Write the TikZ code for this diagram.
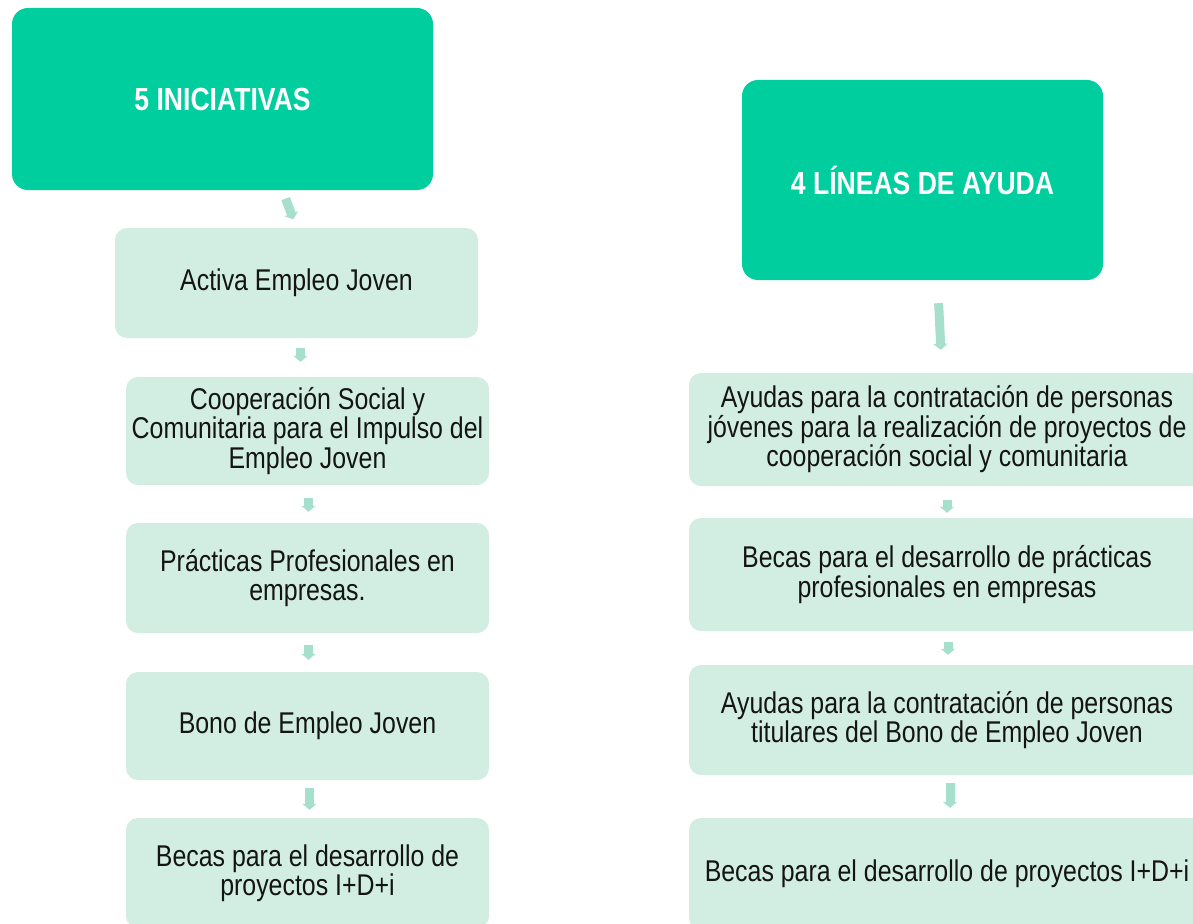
\documentclass[tikz,border=0pt]{standalone}
\usepackage{fontspec}
\setmainfont{Liberation Sans}[FakeStretch=0.83]
\usetikzlibrary{arrows.meta}
\definecolor{hdr}{RGB}{0,206,158}
\definecolor{lbox}{RGB}{210,238,226}
\definecolor{arrc}{RGB}{166,224,204}
\definecolor{txt}{RGB}{20,20,20}
\tikzset{
  hdrbox/.style={fill=hdr, rounded corners=16pt, inner sep=0pt, text=white,
    font=\fontsize{32}{32}\selectfont\bfseries, align=center},
  itembox/.style={fill=lbox, rounded corners=12pt, inner sep=0pt, text=txt,
    font=\fontsize{30}{29.5}\selectfont, align=center},
  arr/.style={draw=arrc, line width=9pt, -{Triangle[width=14pt,length=6pt]}}
}
\begin{document}
\begin{tikzpicture}[x=1pt,y=-1pt]
\path[use as bounding box, clip] (0,0) rectangle (1193,923);
\fill[white] (0,0) rectangle (1193,923);
% left column
\node[hdrbox, minimum width=421pt, minimum height=182pt] (h1) at (222.5,99) {5 INICIATIVAS};
\node[itembox, minimum width=363pt, minimum height=110pt] (b1) at (296.5,283) {Activa Empleo Joven};
\node[itembox, minimum width=363pt, minimum height=108pt] (b2) at (307.5,431) {Cooperación Social y\\Comunitaria para el Impulso del\\Empleo Joven};
\node[itembox, minimum width=363pt, minimum height=110pt] (b3) at (307.5,578) {Prácticas Profesionales en\\empresas.};
\node[itembox, minimum width=363pt, minimum height=108pt] (b4) at (307.5,726) {Bono de Empleo Joven};
\node[itembox, minimum width=363pt, minimum height=110pt] (b5) at (307.5,873) {Becas para el desarrollo de\\proyectos I+D+i};
% right column
\node[hdrbox, minimum width=361pt, minimum height=200pt] (h2) at (922.5,180) {4 LÍNEAS DE AYUDA};
\node[itembox, minimum width=516pt, minimum height=113pt] (r1) at (947,429.5) {Ayudas para la contratación de personas\\jóvenes para la realización de proyectos de\\cooperación social y comunitaria};
\node[itembox, minimum width=516pt, minimum height=113pt] (r2) at (947,574.5) {Becas para el desarrollo de prácticas\\profesionales en empresas};
\node[itembox, minimum width=516pt, minimum height=110pt] (r3) at (947,720) {Ayudas para la contratación de personas\\titulares del Bono de Empleo Joven};
\node[itembox, minimum width=516pt, minimum height=112pt] (r4) at (947,874) {Becas para el desarrollo de proyectos I+D+i};
% arrows left
\draw[arr, shorten <=9pt, shorten >=9pt] ([xshift=60pt]h1.south) -- ([xshift=0pt]b1.north);
\draw[arr, shorten <=10pt, shorten >=15pt] ([xshift=4pt]b1.south) -- ([xshift=-7pt]b2.north);
\draw[arr, shorten <=13pt, shorten >=11pt] ([xshift=1pt]b2.south) -- ([xshift=1pt]b3.north);
\draw[arr, shorten <=12pt, shorten >=12pt] ([xshift=1pt]b3.south) -- ([xshift=1pt]b4.north);
\draw[arr, shorten <=8pt, shorten >=8pt] ([xshift=2pt]b4.south) -- ([xshift=2pt]b5.north);
% arrows right
\draw[arr, shorten <=23pt, shorten >=23pt] ([xshift=15pt]h2.south) -- ([xshift=-5pt]r1.north);
\draw[arr, shorten <=14pt, shorten >=5pt] (r1.south) -- (r2.north);
\draw[arr, shorten <=11pt, shorten >=10pt] ([xshift=1pt]r2.south) -- ([xshift=1pt]r3.north);
\draw[arr, shorten <=8pt, shorten >=10pt] ([xshift=3pt]r3.south) -- ([xshift=3pt]r4.north);
\end{tikzpicture}
\end{document}
